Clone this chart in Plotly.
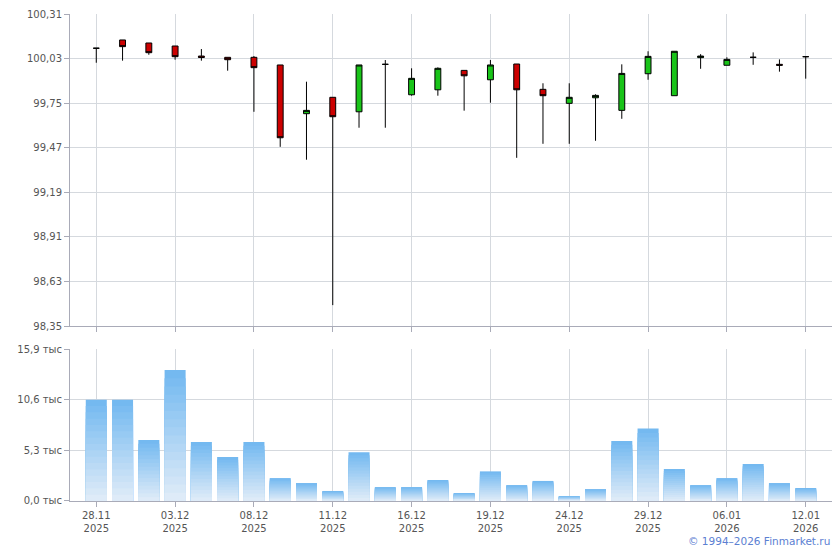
import plotly.graph_objects as go
from plotly.subplots import make_subplots

# trading days
dates = ['28.11.2025', '01.12.2025', '02.12.2025', '03.12.2025', '04.12.2025', '05.12.2025',
         '08.12.2025', '09.12.2025', '10.12.2025', '11.12.2025', '12.12.2025', '15.12.2025',
         '16.12.2025', '17.12.2025', '18.12.2025', '19.12.2025', '22.12.2025', '23.12.2025',
         '24.12.2025', '25.12.2025', '26.12.2025', '29.12.2025', '30.12.2025', '05.01.2026',
         '06.01.2026', '08.01.2026', '09.01.2026', '12.01.2026']

open_ = [100.095, 100.147, 100.128, 100.109, 100.046, 100.038, 100.038, 99.990, 99.684, 99.787,
         99.696, 99.994, 99.803, 99.834, 99.956, 99.897, 99.996, 99.837, 99.749, 99.784,
         99.705, 99.935, 99.797, 100.036, 99.988, 100.038, 99.994, 100.042]
high = [100.095, 100.147, 100.128, 100.109, 100.090, 100.038, 100.046, 99.990, 99.885, 99.787,
        99.990, 100.021, 99.969, 99.975, 99.956, 100.021, 99.996, 99.875, 99.875, 99.806,
        99.994, 100.076, 100.076, 100.058, 100.038, 100.069, 100.025, 100.042]
low = [100.004, 100.017, 100.054, 100.023, 100.017, 99.954, 99.696, 99.476, 99.395, 98.482,
       99.596, 99.596, 99.797, 99.797, 99.703, 99.753, 99.407, 99.495, 99.495, 99.514,
       99.652, 99.897, 99.797, 99.966, 99.988, 99.991, 99.948, 99.904]
close = [100.095, 100.105, 100.067, 100.042, 100.037, 100.023, 99.973, 99.533, 99.705, 99.665,
         99.990, 99.994, 99.906, 99.969, 99.922, 99.990, 99.834, 99.797, 99.787, 99.799,
         99.937, 100.044, 100.076, 100.046, 100.025, 100.038, 99.988, 100.042]

volume = [10600, 10600, 6380, 13700, 6170, 4600, 6170, 2400, 1880, 1050,
          5100, 1460, 1460, 2200, 840, 3100, 1670, 2100, 520, 1250,
          6280, 7600, 3350, 1670, 2400, 3870, 1880, 1360]

price_ticks = [98.35, 98.63, 98.91, 99.19, 99.47, 99.75, 100.03, 100.31]
price_labels = ['98,35', '98,63', '98,91', '99,19', '99,47', '99,75', '100,03', '100,31']
vol_ticks = [0, 5300, 10600, 15900]
vol_labels = ['0,0 тыс', '5,3 тыс', '10,6 тыс', '15,9 тыс']
date_ticks = ['28.11.2025', '03.12.2025', '08.12.2025', '11.12.2025', '16.12.2025',
              '19.12.2025', '24.12.2025', '29.12.2025', '06.01.2026', '12.01.2026']
date_labels = ['28.11<br>2025', '03.12<br>2025', '08.12<br>2025', '11.12<br>2025', '16.12<br>2025',
               '19.12<br>2025', '24.12<br>2025', '29.12<br>2025', '06.01<br>2026', '12.01<br>2026']

GRID = '#d5d9de'
AXIS = '#a9abb8'
TEXT = '#555555'

fig = make_subplots(rows=2, cols=1, shared_xaxes=True,
                    row_heights=[0.641, 0.312], vertical_spacing=0.047)

fig.add_trace(go.Candlestick(
    x=dates, open=open_, high=high, low=low, close=close,
    increasing=dict(line=dict(color='black', width=1), fillcolor='#19c419'),
    decreasing=dict(line=dict(color='black', width=1), fillcolor='#cc0000'),
    whiskerwidth=0, showlegend=False, hoverinfo='x+y'), row=1, col=1)

# vertical gradient on the volume bars: overlaid layers, lighter toward the base
top_rgb = (116, 185, 240)
bot_rgb = (222, 235, 248)
n_layers = 16
for k in range(n_layers):
    t = k / (n_layers - 1)
    rgb = tuple(round(a + (b - a) * t) for a, b in zip(top_rgb, bot_rgb))
    fig.add_trace(go.Bar(
        x=dates, y=[v * (1 - k / n_layers) for v in volume],
        marker=dict(color='rgb(%d,%d,%d)' % rgb, line=dict(width=0)),
        width=0.8, showlegend=False, hoverinfo='skip' if k else 'x+y'), row=2, col=1)

# page body has an 8px margin, so the figure is sized to fit the window
fig.update_layout(
    width=832, height=542,
    margin=dict(l=62, r=8, t=6, b=49, autoexpand=False),
    paper_bgcolor='white', plot_bgcolor='white',
    barmode='overlay', boxgap=0.68,
    font=dict(family='Verdana, DejaVu Sans, sans-serif', size=10, color=TEXT),
    annotations=[dict(text='© 1994–2026 Finmarket.ru', xref='paper', yref='paper',
                      x=1.0, y=-0.082, xanchor='right', yanchor='middle', showarrow=False,
                      font=dict(size=10.5, color='#5b80d2'))],
)

fig.update_xaxes(type='category', categoryorder='array', categoryarray=dates,
                 range=[-1, 28], rangeslider_visible=False, automargin=False,
                 tickmode='array', tickvals=date_ticks, ticktext=date_labels,
                 showgrid=True, gridcolor=GRID, gridwidth=1,
                 showline=True, linecolor=AXIS, linewidth=1,
                 ticks='outside', ticklen=5, tickcolor=AXIS, zeroline=False)
fig.update_xaxes(showticklabels=False, row=1, col=1)

fig.update_yaxes(range=[98.35, 100.31], tickmode='array', tickvals=price_ticks,
                 ticktext=price_labels, row=1, col=1)
fig.update_yaxes(range=[0, 15900], tickmode='array', tickvals=vol_ticks,
                 ticktext=vol_labels, row=2, col=1)
fig.update_yaxes(showgrid=True, gridcolor=GRID, gridwidth=1, automargin=False,
                 showline=True, linecolor=AXIS, linewidth=1,
                 ticks='outside', ticklen=5, tickcolor=AXIS, zeroline=False)

fig.write_html("out.html")
